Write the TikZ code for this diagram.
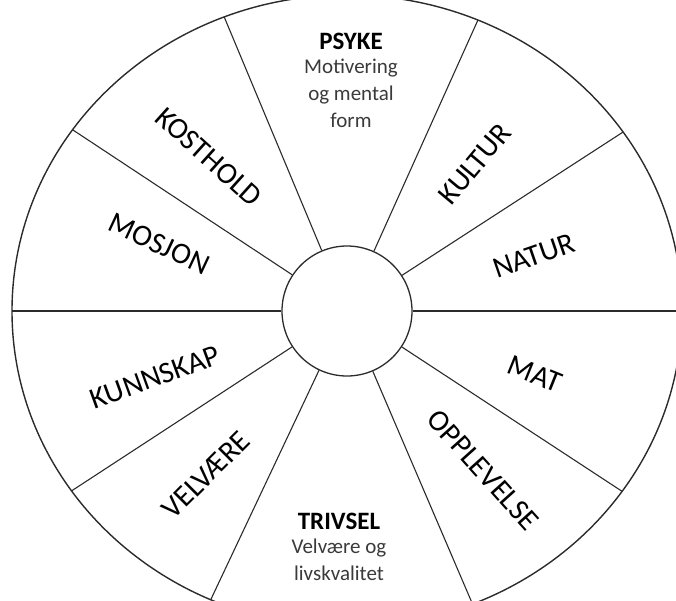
\documentclass[tikz,border=0pt]{standalone}
\usepackage{fontspec}
\setmainfont{Carlito}
\usepackage{tikz}
\usetikzlibrary{positioning,calc}
\definecolor{wheelline}{HTML}{2B2B2B}
\definecolor{subtext}{HTML}{3A3A3A}
\tikzset{
  spoke/.style    ={draw=wheelline, line width=1.1pt},
  rimline/.style  ={draw=wheelline, line width=1.4pt},
  hubcircle/.style={circle, draw=wheelline, line width=1.3pt, minimum size=130pt, inner sep=0pt},
  seglabel/.style ={font=\fontsize{30}{36}\selectfont, inner sep=0pt},
  headlabel/.style={font=\fontsize{25}{30}\selectfont\bfseries, inner sep=0pt},
  sublabel/.style ={font=\fontsize{21}{27}\selectfont, text=subtext, align=center, inner sep=0pt},
}
\begin{document}
\begin{tikzpicture}[x=1pt,y=1pt]
  \useasboundingbox (-347,-289) rectangle (329,311);
  \clip (-347,-289) rectangle (329,311);
  % outer rim and hub
  \draw[rimline] (0,0) ellipse [x radius=335, y radius=316];
  \node[hubcircle] (hub) at (0,0) {};
  % spokes
  \foreach \a [count=\i] in {0,34.5,67,111.5,145,180,214.7,246,292,325.2}{
    \coordinate (end\i) at ({335*cos(\a)},{316*sin(\a)});
    \draw[spoke] (hub) -- (end\i);
  }
  % top and bottom sectors
  \node[headlabel] (psyke) at (4,270) {PSYKE};
  \node[sublabel, below=9pt of psyke] (psykesub) {Motivering\\og mental\\form};
  \node[headlabel] (trivsel) at (-8,-210) {TRIVSEL};
  \node[sublabel, below=9pt of trivsel] (trivselsub) {Velvære og\\livskvalitet};
  % left sectors
  \node[seglabel, rotate=-42] (kosthold) at (-138,154) {KOSTHOLD};
  \node[seglabel, rotate=-25] (mosjon) at (-188,67) {MOSJON};
  \node[seglabel, rotate=20] (kunnskap) at (-192,-66) {KUNNSKAP};
  \node[seglabel, rotate=45] (velvaere) at (-141,-164) {VELVÆRE};
  % right sectors
  \node[seglabel, rotate=50] (kultur) at (128,147) {KULTUR};
  \node[seglabel, rotate=19] (natur) at (187,55) {NATUR};
  \node[seglabel, rotate=-22] (mat) at (188,-63) {MAT};
  \node[seglabel, rotate=-48] (opplevelse) at (136,-159) {OPPLEVELSE};
\end{tikzpicture}
\end{document}
